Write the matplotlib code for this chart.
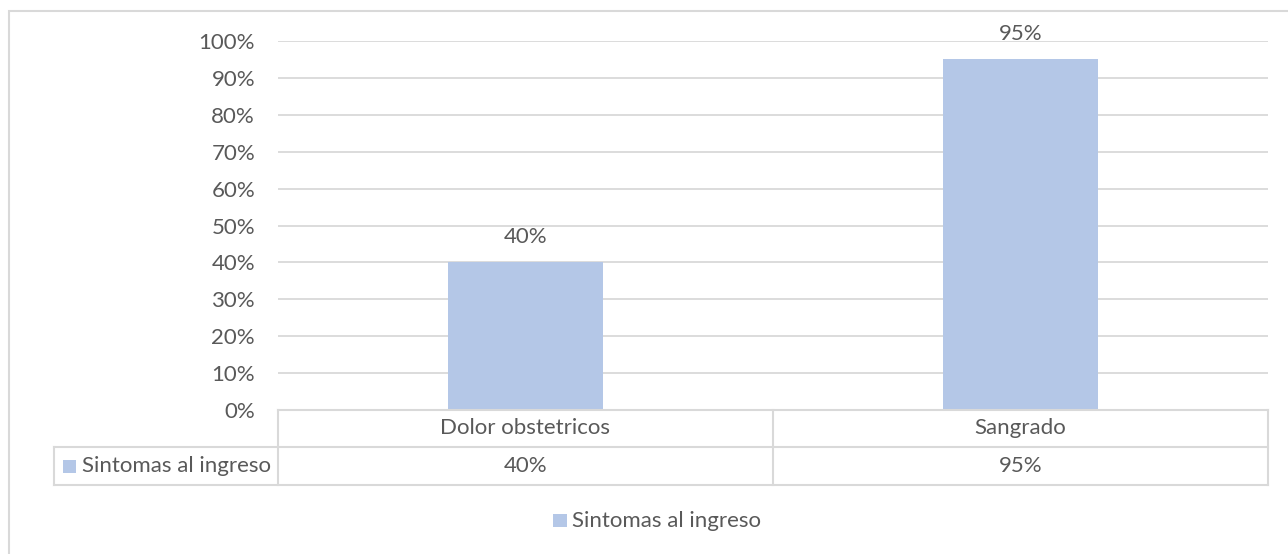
import matplotlib
matplotlib.use("Agg")
import matplotlib.pyplot as plt
from matplotlib.lines import Line2D
from matplotlib.patches import Rectangle
from matplotlib.ticker import MultipleLocator, PercentFormatter
import matplotlib.transforms as mtransforms

categories = ["Dolor obstetricos", "Sangrado"]
values = [40, 95]
series_name = "Sintomas al ingreso"

BAR = "#B4C7E7"
TXT = "#595959"
GRID = "#D9D9D9"
FONT = "Lato"
FS = 16

W, H = 1288, 554
fig = plt.figure(figsize=(W / 100, H / 100), dpi=100)
plt.rcParams["font.family"] = [FONT, "DejaVu Sans"]

def fx(x):
    return x / W

def fy(y):
    return 1 - y / H

# axes placement (pixel coords of plot area)
L, R, T, B = 278, 1268, 41, 410
ax = fig.add_axes([fx(L), fy(B), fx(R - L), (B - T) / H])
x = list(range(len(categories)))
ax.bar(x, values, width=0.313, color=BAR, zorder=3)
ax.set_xlim(-0.5, len(categories) - 0.5)
ax.set_ylim(0, 100)
ax.yaxis.set_major_locator(MultipleLocator(10))
ax.yaxis.set_major_formatter(PercentFormatter(decimals=0))
ax.grid(axis="y", color=GRID, linewidth=1.3, zorder=0)
ax.tick_params(axis="y", length=0, pad=16.5, labelsize=FS, labelcolor=TXT)
ax.tick_params(axis="x", bottom=False, labelbottom=False)
for s in ax.spines.values():
    s.set_visible(False)

for xi, v in zip(x, values):
    ax.annotate(f"{v}%", (xi, v), xytext=(0, 14), textcoords="offset points",
                ha="center", va="baseline", fontsize=FS, color=TXT, zorder=4)

# outer chart border (extends beyond right/bottom of image)
fig.add_artist(Rectangle((fx(9), fy(H + 20)), fx(W + 40), (H + 20 - 11) / H,
                         transform=fig.transFigure, fill=False,
                         edgecolor=GRID, linewidth=1.5))

# data table
row1_top, row1_bot, row2_bot = 410, 447, 485
leg_left = 54

def hline(x0, x1, y):
    fig.add_artist(Line2D([fx(x0), fx(x1)], [fy(y), fy(y)], transform=fig.transFigure,
                          color=GRID, linewidth=1.5))

def vline(xp, y0, y1):
    fig.add_artist(Line2D([fx(xp), fx(xp)], [fy(y0), fy(y1)], transform=fig.transFigure,
                          color=GRID, linewidth=1.5))

hline(L, R, row1_top)
hline(leg_left, R, row1_bot)
hline(leg_left, R, row2_bot)
vline(L, row1_top, row2_bot)
vline(R, row1_top, row2_bot)
vline(leg_left, row1_bot, row2_bot)

to_px = ax.transData
for i in range(1, len(categories)):
    bx = to_px.transform((i - 0.5, 0))[0]
    vline(bx, row1_top, row2_bot)

trans = mtransforms.blended_transform_factory(ax.transData, fig.transFigure)
for xi, cat, v in zip(x, categories, values):
    fig.text(xi, fy((row1_top + row1_bot) / 2), cat, transform=trans, ha="center",
             va="center", fontsize=FS, color=TXT)
    fig.text(xi, fy((row1_bot + row2_bot) / 2), f"{v}%", transform=trans, ha="center",
             va="center", fontsize=FS, color=TXT)

# legend key in table
fig.add_artist(Rectangle((fx(63), fy(473)), fx(13), 13 / H, transform=fig.transFigure,
                         facecolor=BAR, edgecolor="none"))
fig.text(fx(82), fy(466), series_name, ha="left", va="center", fontsize=FS, color=TXT)

# bottom legend
fig.add_artist(Rectangle((fx(553), fy(527)), fx(14), 13 / H, transform=fig.transFigure,
                         facecolor=BAR, edgecolor="none"))
fig.text(fx(572), fy(521), series_name, ha="left", va="center", fontsize=FS, color=TXT)

fig.savefig("out.png", dpi=100)
